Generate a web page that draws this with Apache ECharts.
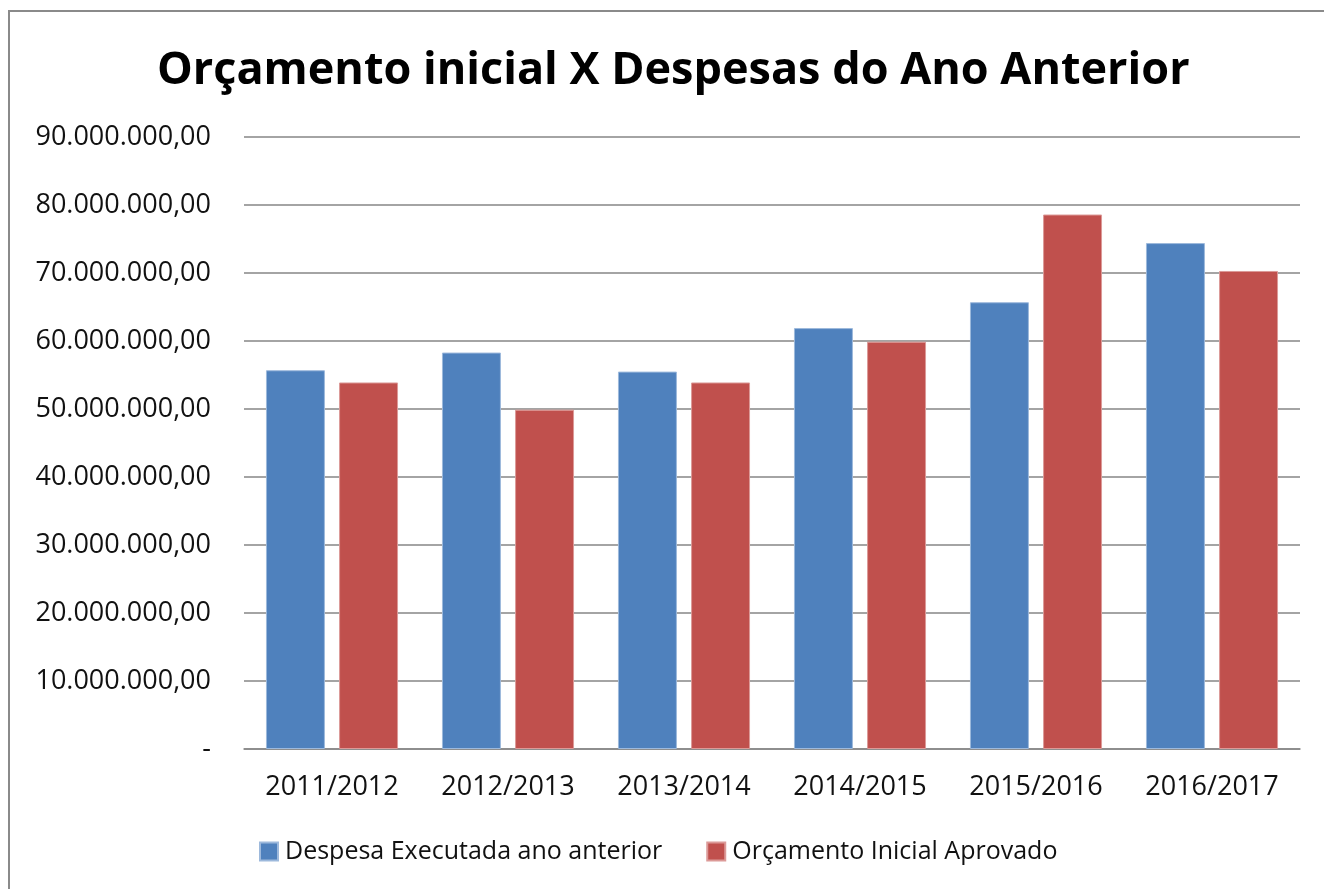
<!DOCTYPE html>
<html>
<head>
<meta charset="utf-8">
<script src="https://cdn.jsdelivr.net/npm/echarts@6/dist/echarts.min.js"></script>
<style>
  html, body { margin: 0; padding: 0; background: #fff; overflow: hidden; }
  #frame {
    position: absolute; left: 8px; top: 10px;
    width: 1400px; height: 1000px;
    border: 2px solid #8a8a8a;
  }
  #chart { position: absolute; left: 0; top: 0; width: 1324px; height: 889px; }
</style>
</head>
<body>
<div id="frame"></div>
<div id="chart"></div>
<script>
// dados do gráfico
const categorias = ['2011/2012', '2012/2013', '2013/2014', '2014/2015', '2015/2016', '2016/2017']
const despesaExecutada = [55700000, 58300000, 55500000, 61900000, 65700000, 74400000]
const orcamentoInicial = [53900000, 49900000, 53900000, 59900000, 78600000, 70300000]
const nomesSeries = ['Despesa Executada ano anterior', 'Orçamento Inicial Aprovado']
const titulo = 'Orçamento inicial X Despesas do Ano Anterior'

const fonte = '"Open Sans", "Noto Sans", sans-serif'

// formata 90000000 -> 90.000.000,00 ; zero -> "-"
const formatarValor = (v) => {
  if (v === 0) return '-'
  return String(Math.round(v)).replace(/\B(?=(\d{3})+(?!\d))/g, '.') + ',00'
}

const chart = echarts.init(document.getElementById('chart'))

const option = {
  animation: false,
  textStyle: { fontFamily: fonte },
  title: {
    text: titulo,
    left: 152,
    top: 44,
    textStyle: {
      fontFamily: fonte,
      fontWeight: 'bold',
      fontSize: 45,
      color: '#000'
    }
  },
  legend: {
    data: nomesSeries,
    left: 254,
    top: 834,
    icon: 'rect',
    itemWidth: 18,
    itemHeight: 18,
    itemGap: 44,
    textStyle: { fontFamily: fonte, fontSize: 25, color: '#111', padding: [0, 0, 0, 2] }
  },
  grid: {
    left: 244,
    right: 24,
    top: 137,
    bottom: 140
  },
  xAxis: {
    type: 'category',
    data: categorias,
    axisLine: { lineStyle: { color: '#868686', width: 1.5 } },
    axisTick: { show: false },
    axisLabel: {
      fontFamily: fonte,
      fontSize: 27,
      color: '#111',
      margin: 25
    }
  },
  yAxis: {
    type: 'value',
    min: 0,
    max: 90000000,
    interval: 10000000,
    axisLine: { show: false },
    axisTick: { show: false },
    splitLine: { lineStyle: { color: '#868686', width: 1.5 } },
    axisLabel: {
      fontFamily: fonte,
      fontSize: 27,
      color: '#111',
      margin: 33,
      formatter: formatarValor
    }
  },
  series: [
    {
      name: nomesSeries[0],
      type: 'bar',
      data: despesaExecutada,
      barWidth: '33.5%',
      barGap: '24%',
      itemStyle: { color: '#4F81BD', borderColor: '#9db9dc', borderWidth: 1 }
    },
    {
      name: nomesSeries[1],
      type: 'bar',
      data: orcamentoInicial,
      barWidth: '33.5%',
      itemStyle: { color: '#C0504D', borderColor: '#dc9a98', borderWidth: 1 }
    }
  ]
}

chart.setOption(option)
</script>
</body>
</html>
